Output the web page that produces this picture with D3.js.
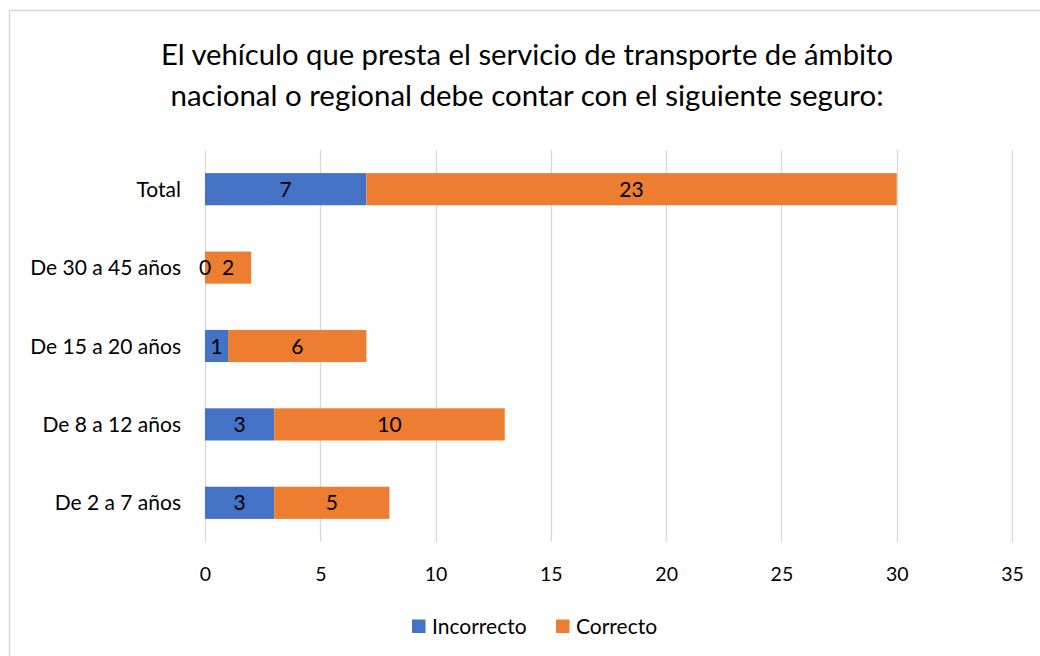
<!DOCTYPE html>
<html>
<head>
<meta charset="utf-8">
<script src="https://cdn.jsdelivr.net/npm/d3@7"></script>
<style>
  html, body { margin: 0; padding: 0; background: #fff; }
  svg { display: block; font-family: Lato, "Open Sans", sans-serif; }
</style>
</head>
<body>
<svg id="chart" width="1040" height="656"></svg>
<script>
// Categories listed top to bottom
const categories = ["Total", "De 30 a 45 años", "De 15 a 20 años", "De 8 a 12 años", "De 2 a 7 años"];
const seriesNames = ["Incorrecto", "Correcto"];
const incorrecto = [7, 0, 1, 3, 3];
const correcto = [23, 2, 6, 10, 5];
const xTicks = [0, 5, 10, 15, 20, 25, 30, 35];
const titleLines = [
  "El vehículo que presta el servicio de transporte de ámbito",
  "nacional o regional debe contar con el siguiente seguro:"
];

const colors = ["#4472C4", "#ED7D31"];
const svg = d3.select("#chart");
const W = 1040, H = 656;

// chart area frame
svg.append("rect")
  .attr("x", 9.5).attr("y", 10.5)
  .attr("width", W + 20).attr("height", H + 20)
  .attr("fill", "#fff").attr("stroke", "#d9d9d9").attr("stroke-width", 1.5);

// title
const titleWidths = [732, 713];
svg.append("g").selectAll("text").data(titleLines).join("text")
  .attr("x", 527)
  .attr("y", (d, i) => 65 + i * 41)
  .attr("text-anchor", "middle")
  .attr("font-size", 28)
  .attr("fill", "#000")
  .attr("textLength", (d, i) => titleWidths[i])
  .attr("lengthAdjust", "spacingAndGlyphs")
  .text(d => d);

const x = d3.scaleLinear().domain([0, 35]).range([205, 1012]);
const y = d3.scaleBand().domain(categories).range([150, 542]).paddingInner(0.59).paddingOuter(0.295);

// vertical gridlines
svg.append("g").selectAll("line").data(xTicks).join("line")
  .attr("x1", d => Math.round(x(d)) + 0.5).attr("x2", d => Math.round(x(d)) + 0.5)
  .attr("y1", 150).attr("y2", 542)
  .attr("stroke", "#d9d9d9").attr("stroke-width", 1.3);

// x axis labels
const xAxis = d3.axisBottom(x).tickValues(xTicks).tickSize(0).tickPadding(0).tickFormat(d3.format("d"));
const gx = svg.append("g").attr("transform", "translate(0,567)").call(xAxis);
gx.select(".domain").remove();
gx.selectAll("text").attr("font-size", 19.5).attr("fill", "#000")
  .attr("font-family", "Lato, 'Open Sans', sans-serif").attr("dy", "0.71em");

// category labels
const yAxis = d3.axisLeft(y).tickSize(0).tickPadding(0);
const gy = svg.append("g").attr("transform", "translate(181,0)").call(yAxis);
gy.select(".domain").remove();
gy.selectAll("text").attr("font-size", 21).attr("fill", "#000")
  .attr("font-family", "Lato, 'Open Sans', sans-serif").attr("dy", "0.36em");

// stacked bars
const rows = categories.map((c, i) => ({ cat: c, Incorrecto: incorrecto[i], Correcto: correcto[i] }));
const stacked = d3.stack().keys(seriesNames)(rows);

const layers = svg.append("g").selectAll("g").data(stacked).join("g")
  .attr("fill", (d, i) => colors[i]);

layers.selectAll("rect").data(d => d).join("rect")
  .attr("x", d => x(d[0]))
  .attr("y", d => y(d.data.cat))
  .attr("width", d => x(d[1]) - x(d[0]))
  .attr("height", y.bandwidth());

// data labels centred in each segment
const labels = svg.append("g");
stacked.forEach(layer => {
  labels.selectAll(null).data(layer).join("text")
    .attr("x", d => (x(d[0]) + x(d[1])) / 2)
    .attr("y", d => y(d.data.cat) + y.bandwidth() / 2)
    .attr("dy", "0.36em")
    .attr("text-anchor", "middle")
    .attr("font-size", 21)
    .attr("fill", "#000")
    .text(d => d[1] - d[0]);
});

// legend
const legend = svg.append("g");
const legendX = [412, 556];
seriesNames.forEach((name, i) => {
  legend.append("rect")
    .attr("x", legendX[i]).attr("y", 619.5)
    .attr("width", 13.5).attr("height", 13.5)
    .attr("fill", colors[i]);
  legend.append("text")
    .attr("x", legendX[i] + 20).attr("y", 634)
    .attr("font-size", 21).attr("fill", "#000")
    .text(name);
});
</script>
</body>
</html>
